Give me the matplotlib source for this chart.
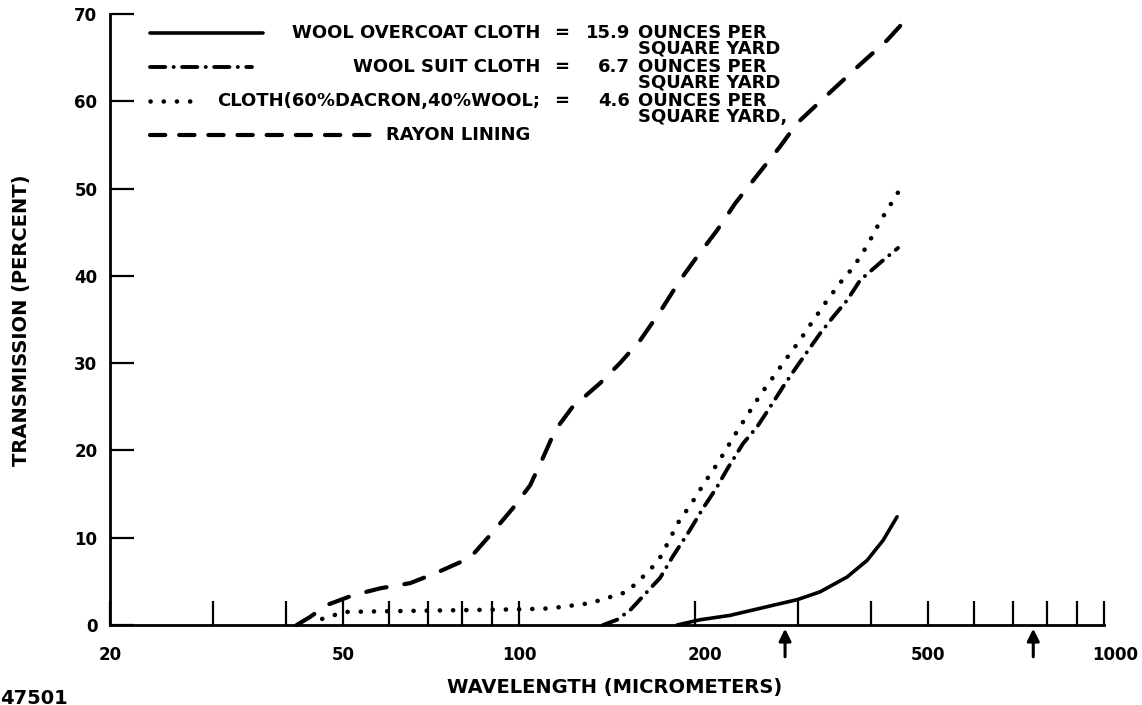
import matplotlib
matplotlib.use("Agg")
import matplotlib.pyplot as plt
from matplotlib.lines import Line2D
import matplotlib.transforms as mtransforms

plt.rcParams['font.family'] = ['DejaVu Sans']
plt.rcParams['font.weight'] = 'bold'
plt.rcParams['lines.scale_dashes'] = False

# ---------------- data ----------------
overcoat_x = [186.3, 204, 229.4, 265.6, 298.9, 327.2, 363.8, 393.6, 419.2, 442.9]
overcoat_y = [0, 0.6, 1.1, 2.1, 2.9, 3.8, 5.5, 7.4, 9.7, 12.4]

suit_x = [139.2, 147.1, 154.9, 165.6, 174.3, 183.4, 196.1, 205.6, 218, 226.7, 241.6,
          255.3, 268.9, 282.8, 294.2, 310.9, 327.2, 344.4, 363.8, 383, 414.4, 444.6]
suit_y = [0, 0.6, 1.7, 3.8, 5.4, 7.9, 10.9, 13.2, 15.8, 17.8, 20.8,
          22.7, 25.0, 27.3, 29.0, 31.3, 33.4, 35.3, 37.2, 39.5, 41.5, 43.2]

dacron_x = [46.1, 50.4, 62.6, 79.3, 100.4, 113, 119, 125.7, 132.3, 144.8, 153, 161, 168,
            175, 187, 198, 208, 219, 234, 246, 260, 272, 287, 302, 317, 334, 354, 373,
            394, 414, 445]
dacron_y = [0.7, 1.5, 1.6, 1.7, 1.8, 1.9, 2.1, 2.3, 2.5, 3.3, 3.8, 5.2, 6.4,
            7.9, 11.7, 14.1, 16.4, 18.6, 21.8, 24.1, 26.6, 28.4, 30.6, 32.6, 34.7, 36.9, 39.2, 41.0,
            43.5, 46.2, 49.6]

rayon_x = [41.7, 43.9, 47.0, 52.0, 57.9, 65.2, 72.4, 82.5, 89.3, 97.7, 104.5, 110.0, 115.3,
           123.2, 137.6, 148.8, 161.1, 174.3, 188.5, 201.6, 218.0, 234.2, 255.3, 279.4,
           298.9, 336.2, 378.4, 425.9, 460.8]
rayon_y = [0, 0.9, 2.3, 3.4, 4.2, 4.8, 6.0, 7.7, 10.3, 13.4, 16.0, 19.2, 22.3,
           24.9, 27.7, 30.0, 32.6, 35.9, 39.5, 42.2, 45.2, 48.3, 51.5, 54.8,
           57.5, 60.7, 63.9, 67.0, 69.5]

x_major = [20, 50, 100, 200, 500, 1000]
x_major_labels = ["20", "50", "100", "200", "500", "1000"]
x_minor = [30, 40, 60, 70, 80, 90, 300, 400, 600, 700, 800, 900]
y_ticks = [0, 10, 20, 30, 40, 50, 60, 70]
y_tick_labels = ["0", "10", "20", "30", "40", "50", "60", "70"]
arrow_x = [285, 757]

legend_names = ["WOOL OVERCOAT CLOTH", "WOOL SUIT CLOTH",
                "CLOTH(60%DACRON,40%WOOL;", "RAYON LINING"]
legend_weights = ["15.9", "6.7", "4.6"]
legend_units = [("OUNCES PER", "SQUARE YARD"), ("OUNCES PER", "SQUARE YARD"),
                ("OUNCES PER", "SQUARE YARD,")]

# ---------------- figure ----------------
W, H = 1142, 705
fig = plt.figure(figsize=(W / 100, H / 100), dpi=100)
fig.patch.set_facecolor('white')


def fx(px):
    return px / W


def fy(py):
    return 1 - py / H


left, right, top, bottom = 110, 1104, 14, 625
ax = fig.add_axes([fx(left), fy(bottom), (right - left) / W, (bottom - top) / H])
ax.set_xscale('log')
ax.set_xlim(20, 1000)
ax.set_ylim(0, 70)

for s in ['top', 'right']:
    ax.spines[s].set_visible(False)
for s in ['left', 'bottom']:
    ax.spines[s].set_linewidth(2.0)
    ax.spines[s].set_capstyle('projecting')

ax.set_xticks(x_major)
ax.set_xticklabels(x_major_labels)
ax.set_xticks(x_minor, minor=True)
ax.xaxis.set_minor_formatter(matplotlib.ticker.NullFormatter())
ax.tick_params(axis='x', which='both', direction='in', length=17, width=1.6,
               pad=15, labelsize=12)
ax.set_yticks(y_ticks)
ax.set_yticklabels(y_tick_labels)
ax.tick_params(axis='y', direction='in', length=17, width=1.6, pad=9, labelsize=12)
for lab in ax.get_xticklabels() + ax.get_yticklabels():
    lab.set_fontweight('bold')

# small offsets of some tick labels as in the scan
offs = {"200": 10, "1000": 11}
for lab in ax.get_xticklabels():
    t = lab.get_text()
    if t in offs:
        lab.set_transform(lab.get_transform() +
                          mtransforms.ScaledTranslation(offs[t] / 100, 0, fig.dpi_scale_trans))

# ---------------- line styles ----------------
st_solid = dict(color='black', lw=2.6, solid_capstyle='round')
st_suit = dict(color='black', lw=2.8, dashes=(11, 6, 0.1, 6), dash_capstyle='round')
st_dot = dict(color='black', lw=3.3, dashes=(0.1, 9.4), dash_capstyle='round')
st_rayon = dict(color='black', lw=3.0, dashes=(15, 13), dash_capstyle='round')

ax.plot(overcoat_x, overcoat_y, **st_solid, clip_on=False)
ax.plot(suit_x, suit_y, **st_suit, clip_on=False)
ax.plot(dacron_x, dacron_y, **st_dot, clip_on=False)
ax.plot(rayon_x, rayon_y, **st_rayon, clip_on=False)

# arrows under the wavelength axis
for xa in arrow_x:
    ax.annotate('', xy=(xa, -0.006), xycoords=('data', 'axes fraction'),
                xytext=(xa, -0.052), textcoords=('data', 'axes fraction'),
                arrowprops=dict(arrowstyle='-|>', lw=2.2, color='black',
                                mutation_scale=18, shrinkA=0, shrinkB=0))

# ---------------- axis labels ----------------
fig.text(fx(615), fy(688), "WAVELENGTH (MICROMETERS)", ha='center', va='center',
         fontsize=14, fontweight='bold')
fig.text(fx(22), fy(320), "TRANSMISSION (PERCENT)", ha='center', va='center',
         rotation=90, fontsize=14, fontweight='bold')
fig.text(fx(0), fy(698), "47501", ha='left', va='center', fontsize=14,
         fontweight='bold')

# ---------------- hand-drawn legend ----------------
rows = [33, 67, 101, 135]
samples = [(150, 263, dict(st_solid)), (150, 252, dict(st_suit)),
           (150, 190, dict(st_dot)), (150, 380, dict(st_rayon, dashes=(11, 10)))]
name_right = [540, 540, 540, 530]
fs = 13
for i, (x0, x1, st) in enumerate(samples):
    y = rows[i]
    fig.add_artist(Line2D([fx(x0), fx(x1)], [fy(y), fy(y)], transform=fig.transFigure, **st))
    fig.text(fx(name_right[i]), fy(y), legend_names[i], ha='right', va='center',
             fontsize=fs, fontweight='bold')
for i in range(3):
    y = rows[i]
    fig.text(fx(562), fy(y), "=", ha='center', va='center', fontsize=fs, fontweight='bold')
    fig.text(fx(630), fy(y), legend_weights[i], ha='right', va='center', fontsize=fs,
             fontweight='bold')
    fig.text(fx(638), fy(y), legend_units[i][0], ha='left', va='center', fontsize=fs,
             fontweight='bold')
    fig.text(fx(638), fy(y + 16), legend_units[i][1], ha='left', va='center', fontsize=fs,
             fontweight='bold')

fig.savefig("out.png", dpi=100, facecolor='white')
